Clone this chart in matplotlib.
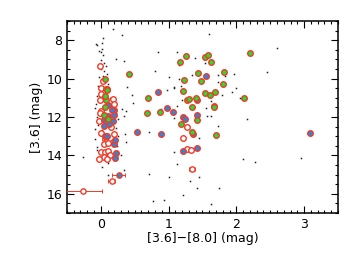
# coding: UTF-8
import matplotlib
matplotlib.use('Agg')
import matplotlib.pyplot as plt
from matplotlib.ticker import MultipleLocator

# black dots (all sources)
dot_x = [0.18, 0.31, 0.034, 0.015, -0.065, -0.05, 0.0, 0.03, 0.0, 0.02, -0.02, 0.04, 0.07,
         0.01, 0.05, 0.09, 0.03, -0.03, 0.06, 0.11, -0.04, 0.12, -0.06, 0.14, -0.07, 0.21,
         0.15, -0.08, 0.22, -0.05, 0.25, -0.04, 0.23, -0.08, 0.02, -0.085, 0.25, -0.05, 0.24,
         0.14, -0.06, 0.2, 0.1, 0.02, 0.1, 0.335, -0.27, 0.3,
         0.22, 0.345, 0.85, 0.80, 0.39, 0.46, 0.47, 0.37, 0.31, 0.345, 0.36, 0.37,
         0.715, 0.715, 0.765, 0.935, 1.0, 1.08, 1.12, 1.21, 1.31, 1.42, 1.45, 1.45, 1.62,
         1.745, 1.73, 2.155, 2.1, 2.28, 2.95, 2.6, 2.45, 1.59, 1.12, 1.39, 1.16, 1.34, 1.15,
         1.0, 1.19, 1.075, 0.97, 1.08, 1.12, 1.2, 1.54, 1.73, 1.84, 1.96, 1.735, 2.0, 1.94,
         1.79, 2.05, 1.63, 1.57, 1.63, 1.558, 1.084, 0.888, 1.53]
dot_y = [7.40, 7.74, 7.91, 8.14, 8.22, 8.26, 8.6, 8.77, 9.03, 8.45, 8.55, 9.2, 9.35,
         9.5, 9.6, 9.75, 9.85, 9.9, 10.2, 10.3, 10.4, 10.6, 10.9, 11.0, 11.3, 11.25,
         11.45, 11.55, 11.8, 12.0, 12.1, 12.4, 12.55, 12.6, 12.7, 13.14, 13.0, 13.55, 13.5,
         13.9, 13.7, 14.25, 14.4, 14.6, 15.0, 14.77, 14.1, 14.0,
         8.99, 9.08, 8.63, 9.6, 10.45, 10.83, 11.26, 11.7, 11.6, 11.94, 12.86, 13.28,
         12.77, 14.99, 16.36, 16.31, 15.15, 13.83, 14.46, 16.06, 15.34, 15.68, 15.11, 13.1, 16.54,
         15.7, 12.49, 12.1, 14.19, 14.36, 14.12, 8.4, 9.65, 7.69, 8.62, 8.93, 9.3, 9.8, 10.02,
         9.92, 10.36, 10.45, 10.62, 10.48, 11.44, 11.14, 9.2, 9.8, 9.84, 9.76, 10.16, 10.47, 10.72,
         10.88, 11.03, 11.19, 11.94, 11.94, 11.51, 12.03, 11.56, 9.0]

# green filled sources
grn_x = [1.262, 1.173, 1.534, 1.583, 1.623, 2.204, 1.815, 1.435, 1.223, 1.484, 1.213, 1.543,
         1.691, 1.612, 1.805, 2.111, 1.268, 1.306, 1.41, 1.351, 1.676, 1.425, 1.183, 1.342,
         1.706, 0.41, 0.691, 0.676, 0.877,
         0.064, 0.07, 0.093, 0.074, 0.059, 0.04, 0.099, 0.059]
grn_y = [8.81, 9.13, 8.86, 8.77, 9.12, 8.68, 9.65, 9.73, 10.06, 10.12, 10.67, 10.74,
         10.69, 10.88, 10.28, 11.02, 11.14, 11.07, 11.00, 11.46, 11.50, 12.18, 12.39, 12.80,
         12.95, 9.75, 11.03, 11.80, 11.74,
         10.01, 10.53, 10.57, 11.14, 11.48, 11.89, 12.11, 10.92]

# blue filled sources
blu_x = [1.549, 1.416, 1.672, 1.061, 1.209, 1.243, 1.425, 0.851, 0.972, 0.54, 0.888, 1.206,
         1.413, 3.081, 1.355,
         0.099, 0.197, 0.158, 0.108, 0.188, 0.049, 0.173, 0.074, 0.04, 0.118, 0.059, 0.089,
         0.197, 0.212, 0.222, 0.203]
blu_y = [9.87, 11.12, 11.43, 11.72, 11.99, 12.10, 11.92, 10.69, 11.52, 12.80, 12.86, 13.76,
         13.62, 12.83, 12.88,
         11.37, 11.62, 11.65, 11.94, 11.89, 12.16, 12.20, 12.28, 12.46, 12.37, 12.97, 12.97,
         13.43, 13.21, 13.86, 14.13]

# open sources
opn_x = [1.277, 1.213, 1.265, 1.327,
         -0.012, 0.025, 0.0, 0.089, 0.0, -0.01, 0.173, 0.197, 0.01, -0.01, -0.025, 0.148,
         0.01, 0.197, 0.059, 0.074, 0.173, 0.04, 0.099, 0.0, 0.059, 0.108, 0.138, 0.049,
         -0.025, 0.089]
opn_y = [12.52, 13.09, 13.68, 13.72,
         9.33, 10.11, 10.48, 10.52, 10.78, 11.14, 11.08, 11.34, 11.69, 11.77, 12.23, 12.51,
         12.85, 12.88, 13.14, 13.31, 13.31, 13.40, 13.36, 13.83, 13.83, 13.79, 14.0, 14.08,
         14.17, 14.2]

# faint sources with colour errors
err_x = [1.346, 0.158, -0.256, 0.262]
err_y = [14.70, 15.32, 15.85, 15.03]
err_dx = [0.04, 0.05, 0.28, 0.09]
err_fill = ['white', 'white', 'white', '#2a86e0']

RED = '#f03a26'

fig = plt.figure(figsize=(3.58, 2.56), dpi=100)
ax = fig.add_axes([0.187, 0.168, 0.757, 0.75])

ax.plot(dot_x, dot_y, 's', ms=1.1, color='#222222', mew=0)

ax.errorbar(err_x, err_y, xerr=err_dx, fmt='none', ecolor=RED, elinewidth=0.7,
            capsize=1.5, capthick=0.7, zorder=3)
for x, y, f in zip(err_x, err_y, err_fill):
    ax.plot(x, y, 'o', ms=3.8, mfc=f, mec=RED, mew=1.0, zorder=4)

ax.plot(opn_x, opn_y, 'o', ms=4.0, mfc='white', mec=RED, mew=1.0, zorder=4)
ax.plot(blu_x, blu_y, 'o', ms=4.0, mfc='#2a86e0', mec=RED, mew=1.0, zorder=5)
ax.plot(grn_x, grn_y, 'o', ms=4.0, mfc='#22dd33', mec=RED, mew=1.0, zorder=6)

ax.set_xlim(-0.5, 3.5)
ax.set_ylim(17, 7)
ax.xaxis.set_major_locator(MultipleLocator(1))
ax.xaxis.set_minor_locator(MultipleLocator(0.1))
ax.yaxis.set_major_locator(MultipleLocator(2))
ax.yaxis.set_minor_locator(MultipleLocator(0.5))
ax.tick_params(which='both', direction='in', top=True, right=True, labelsize=9, width=0.8)
ax.tick_params(which='major', length=5)
ax.tick_params(which='minor', length=2.5)
for s in ax.spines.values():
    s.set_linewidth(1.1)

ax.set_xlabel('[3.6]\u2212[8.0] (mag)', fontsize=9, labelpad=1)
ax.set_ylabel('[3.6] (mag)', fontsize=9, labelpad=2)

plt.savefig('out.png')
